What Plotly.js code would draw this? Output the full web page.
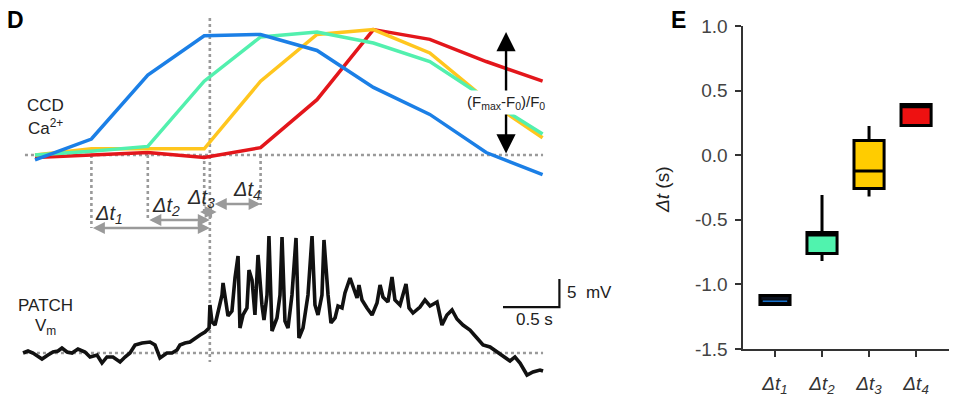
<!DOCTYPE html>
<html>
<head>
<meta charset="utf-8">
<script src="https://cdn.plot.ly/plotly-3.0.1.min.js"></script>
<style>html,body{margin:0;padding:0;background:#fff;}#chart{width:960px;height:396px;}</style>
</head>
<body>
<div id="chart"></div>
<script>
// ---------- Panel D: CCD calcium traces (normalized dF/F, frames every 0.5 s) ----------
const frameT   = [0, 0.5, 1.0, 1.5, 2.0, 2.5, 3.0, 3.5, 4.0, 4.5];
const caBlue   = [-0.04, 0.13, 0.65, 0.97, 0.98, 0.85, 0.55, 0.33, 0.02, -0.16];
const caGreen  = [0.00, 0.03, 0.07, 0.60, 0.96, 1.00, 0.91, 0.76, 0.46, 0.17];
const caYellow = [0.00, 0.05, 0.05, 0.05, 0.60, 0.98, 1.02, 0.83, 0.45, 0.14];
const caRed    = [-0.02, 0.00, 0.02, -0.02, 0.06, 0.45, 1.02, 0.94, 0.76, 0.60];

// ---------- Panel D: patch Vm trace (s, mV relative to baseline) ----------
const vmT = [-0.106,-0.062,-0.018,0.062,0.115,0.160,0.204,0.239,0.284,0.328,
  0.381,0.443,0.488,0.550,0.594,0.638,0.691,0.754,0.798,0.842,
  0.887,0.949,1.020,1.064,1.108,1.170,1.215,1.259,1.285,1.330,
  1.374,1.418,1.463,1.507,1.543,1.551,1.569,1.596,1.622,1.658,
  1.667,1.693,1.711,1.746,1.773,1.800,1.817,1.844,1.879,1.897,
  1.924,1.950,1.977,2.012,2.030,2.057,2.074,2.101,2.145,2.172,
  2.190,2.216,2.243,2.278,2.314,2.340,2.376,2.420,2.456,2.482,
  2.509,2.544,2.562,2.598,2.624,2.660,2.686,2.722,2.748,2.793,
  2.819,2.855,2.872,2.899,2.943,2.988,3.032,3.059,3.085,3.129,
  3.165,3.191,3.236,3.289,3.316,3.351,3.413,3.457,3.502,3.564,
  3.608,3.652,3.697,3.741,3.794,3.856,3.918,3.972,4.034,4.096,
  4.149,4.211,4.255,4.300,4.362,4.415,4.477,4.504];
const vmV = [0,0.36,0,-1.07,-0.36,0.18,0.36,0.89,0.18,0,
  0.71,0.18,-0.71,-0.36,-1.79,-0.71,-0.71,-1.61,-0.71,0,
  1.43,1.79,1.96,1.43,-0.89,0,0,0.54,1.43,1.79,
  1.96,2.68,3.21,3.75,4.46,8.57,5.54,5.0,7.5,10.36,
  12.5,8.93,6.61,7.5,13.39,17.32,4.46,6.79,8.04,14.82,
  13.04,6.79,17.5,8.57,5.89,10.36,20.89,3.93,6.25,10.36,
  20.71,5.71,4.46,10.36,20.54,2.68,4.46,10.36,20.89,8.57,
  6.79,10.36,20.18,10.36,5.36,6.25,8.39,8.04,10.71,13.39,
  11.79,9.82,12.14,9.46,8.04,6.79,8.93,12.14,10.0,9.11,
  13.57,9.46,8.57,12.32,8.04,7.14,8.21,9.46,8.39,9.11,
  5.0,6.79,7.68,6.07,5.0,4.11,2.68,1.43,1.07,0.18,
  -0.71,-1.43,-0.71,-1.79,-3.93,-3.39,-3.04,-3.21];

const onsetT = 1.55;                 // Vm depolarization onset
const lagFrames = [0.5, 1.0, 1.5, 2.0]; // first rising frame of each CCD trace
const scaleT = 0.5, scaleMV = 5;

// ---------- Panel E: box summary of delays (s) ----------
const boxLabels = ['<i>Δt<sub>1</sub></i>', '<i>Δt<sub>2</sub></i>', '<i>Δt<sub>3</sub></i>', '<i>Δt<sub>4</sub></i>'];
const boxLower  = [-1.155, -0.819, -0.320, 0.230];
const boxQ1     = [-1.155, -0.761, -0.258, 0.230];
const boxMedian = [-1.130, -0.617, -0.122, 0.375];
const boxQ3     = [-1.085, -0.598, 0.114, 0.392];
const boxUpper  = [-1.085, -0.308, 0.226, 0.392];
const eYTicks   = [-1.5, -1.0, -0.5, 0.0, 0.5, 1.0];
const eYTickText = ['-1.5', '-1.0', '-0.5', '0.0', '0.5', '1.0'];

// ---------- styles ----------
const FONT = 'Liberation Sans, Arial, Helvetica, sans-serif';
const COL = {blue:'#1b7fe6', green:'#52f0ae', yellow:'#ffc61e', red:'#e3161b'};
const BOXFILL = ['#0b1220', '#50f3ae', '#ffcc00', '#ee1111'];
const DOT = '#9a9a9a';

const traces = [];
[[caRed, COL.red], [caYellow, COL.yellow], [caGreen, COL.green], [caBlue, COL.blue]].forEach(([v, c]) => {
  traces.push({x: frameT, y: v, xaxis: 'x', yaxis: 'y', mode: 'lines', type: 'scatter',
    line: {color: c, width: 3.5}, hoverinfo: 'skip', showlegend: false});
});
traces.push({x: vmT, y: vmV, xaxis: 'x', yaxis: 'y2', mode: 'lines', type: 'scatter',
  line: {color: '#111', width: 3.6, shape: 'linear'}, hoverinfo: 'skip', showlegend: false});

// scale bar
const sbT0 = 4.149;
const sbV0 = 8.2;
traces.push({x: [sbT0, sbT0 + scaleT, sbT0 + scaleT], y: [sbV0, sbV0, sbV0 + scaleMV],
  xaxis: 'x', yaxis: 'y2', mode: 'lines', type: 'scatter',
  line: {color: '#111', width: 2.2}, hoverinfo: 'skip', showlegend: false});

// boxes
for (let i = 0; i < 4; i++) {
  traces.push({type: 'box', xaxis: 'x2', yaxis: 'y3', x: [i],
    q1: [boxQ1[i]], median: [boxMedian[i]], q3: [boxQ3[i]],
    lowerfence: [boxLower[i]], upperfence: [boxUpper[i]],
    width: 0.64, whiskerwidth: 0, fillcolor: BOXFILL[i],
    line: {color: '#000', width: 3}, boxpoints: false, hoverinfo: 'skip', showlegend: false});
}
// blue median stroke of the first box
traces.push({x: [-0.26, 0.26], y: [boxMedian[0], boxMedian[0]], xaxis: 'x2', yaxis: 'y3', mode: 'lines', type: 'scatter',
  line: {color: COL.blue, width: 1.4}, hoverinfo: 'skip', showlegend: false});

// ---------- shapes ----------
const tStart = -0.089, tEnd = 4.504;
const shapes = [
  {type: 'line', xref: 'x', yref: 'y', x0: tStart, x1: tEnd, y0: 0, y1: 0, layer: 'below', line: {color: DOT, width: 2.6, dash: 'dot'}},
  {type: 'line', xref: 'x', yref: 'y2', x0: tStart, x1: tEnd, y0: 0, y1: 0, layer: 'below', line: {color: DOT, width: 2.6, dash: 'dot'}},
  {type: 'line', xref: 'x', yref: 'y', x0: onsetT, x1: onsetT, y0: 1.114, y1: -1.683, layer: 'below', line: {color: DOT, width: 2.6, dash: 'dot'}}
];
const dropEnds = [-0.593, -0.528, -0.488, -0.407];
lagFrames.forEach((t, i) => {
  shapes.push({type: 'line', xref: 'x', yref: 'y', x0: t, x1: t, y0: 0, y1: dropEnds[i], layer: 'below', line: {color: DOT, width: 2.6, dash: 'dot'}});
});

// ---------- annotations ----------
const ARW = '#9a9a9a';
const annotations = [];
function dblArrow(t0, t1, y) {
  annotations.push({xref: 'x', yref: 'y', axref: 'x', ayref: 'y', x: t1, y: y, ax: t0, ay: y, text: '',
    showarrow: true, arrowside: 'end+start', arrowhead: 2, arrowsize: 1, arrowwidth: 2.4, arrowcolor: ARW, standoff: 0, startstandoff: 0});
}
dblArrow(lagFrames[0], onsetT, -0.593);
dblArrow(lagFrames[1], onsetT, -0.528);
dblArrow(1.45, 1.61, -0.463);
dblArrow(1.58, lagFrames[3], -0.398);

const dtLab = [[0.66, -0.48], [1.16, -0.42], [1.47, -0.35], [1.88, -0.285]];
dtLab.forEach(([t, y], i) => {
  annotations.push({xref: 'x', yref: 'y', x: t, y: y, xanchor: 'center', yanchor: 'middle', showarrow: false,
    text: '<i>Δt<sub>' + (i + 1) + '</sub></i>', font: {family: FONT, size: 20, color: '#2a2a2a'}});
});

// amplitude arrow and label
annotations.push({xref: 'x', yref: 'y', axref: 'x', ayref: 'y', x: 4.176, y: 1.0, ax: 4.176, ay: 0.0, text: '',
  showarrow: true, arrowside: 'end+start', arrowhead: 2, arrowsize: 1.6, arrowwidth: 2.4, arrowcolor: '#000', standoff: 0, startstandoff: 0});
annotations.push({xref: 'x', yref: 'y', x: 4.176, y: 0.423, xanchor: 'center', yanchor: 'middle', showarrow: false, bgcolor: '#fff', borderpad: 2,
  text: '(F<sub>max</sub>-F<sub>0</sub>)/F<sub>0</sub>', font: {family: FONT, size: 15, color: '#222'}});

// scale bar labels
annotations.push({xref: 'x', yref: 'y2', x: sbT0 + scaleT / 2 + 0.03, y: 5.9, xanchor: 'center', yanchor: 'middle', showarrow: false,
  text: '0.5 s', font: {family: FONT, size: 17, color: '#222'}});
annotations.push({xref: 'x', yref: 'y2', x: 4.70, y: 10.8, xanchor: 'left', yanchor: 'middle', showarrow: false,
  text: '5  mV', font: {family: FONT, size: 17, color: '#222'}});

// row labels
function paperText(px, py, text, size, color, extra) {
  annotations.push(Object.assign({xref: 'paper', yref: 'paper', x: px / 960, y: 1 - py / 396,
    xanchor: 'center', yanchor: 'middle', showarrow: false, borderpad: 0,
    text: text, font: {family: FONT, size: size, color: color}}, extra || {}));
}
paperText(45, 105, 'CCD', 17, '#222');
paperText(45, 127, 'Ca<sup>2+</sup>', 17, '#222');
paperText(45, 305, 'PATCH', 17, '#222');
paperText(45, 327, 'V<sub>m</sub>', 17, '#222');
paperText(15, 20, '<b>D</b>', 23, '#000');
paperText(678, 20, '<b>E</b>', 23, '#000');
paperText(662, 190, '<i>Δt</i> (s)', 19, '#222', {textangle: -90});

const layout = {
  width: 960, height: 396,
  margin: {l: 0, r: 0, t: 0, b: 0},
  paper_bgcolor: '#fff', plot_bgcolor: 'rgba(0,0,0,0)',
  showlegend: false, hovermode: false,
  font: {family: FONT},
  xaxis: {domain: [0, 1], range: [-0.3103, 8.2004], visible: false, fixedrange: true},
  yaxis: {domain: [0, 1], range: [-1.9593, 1.2602], visible: false, fixedrange: true},
  yaxis2: {overlaying: 'y', range: [-7.679, 63.036], visible: false, fixedrange: true},
  xaxis2: {domain: [0.77396, 0.98854], anchor: 'y3', range: [-0.68, 3.70],
    tickvals: [0, 1, 2, 3], ticktext: boxLabels, ticks: 'outside', ticklen: 6, tickwidth: 2, tickcolor: '#333',
    showline: true, linecolor: '#333', linewidth: 2.5, showgrid: false, zeroline: false,
    ticklabelstandoff: 10, tickfont: {family: FONT, size: 19, color: '#333'}, fixedrange: true},
  yaxis3: {domain: [0.11869, 0.93434], anchor: 'x2', range: [-1.5, 1.0],
    tickvals: eYTicks, ticktext: eYTickText, ticks: 'outside', ticklen: 6, tickwidth: 2, tickcolor: '#333',
    showline: true, linecolor: '#333', linewidth: 2.5, showgrid: false, zeroline: false,
    ticklabelstandoff: 3, tickfont: {family: FONT, size: 19, color: '#444'}, fixedrange: true},
  shapes: shapes,
  annotations: annotations
};

Plotly.newPlot('chart', traces, layout, {displayModeBar: false, staticPlot: true});
</script>
</body>
</html>
